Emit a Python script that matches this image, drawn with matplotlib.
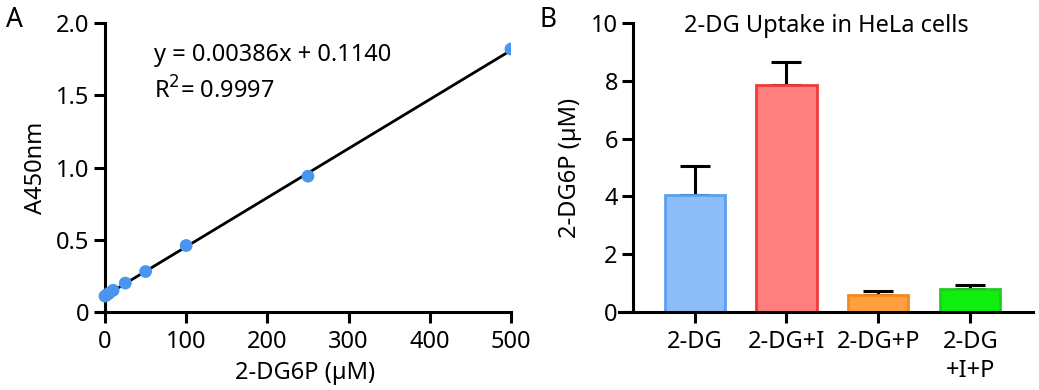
import numpy as np
import matplotlib
matplotlib.use('Agg')
import matplotlib.pyplot as plt

plt.rcParams['font.family'] = ['Noto Sans', 'DejaVu Sans']
plt.rcParams['font.size'] = 17

# panel A - standard curve
conc = [0, 2.5, 5, 10, 25, 50, 100, 250, 500]
absorb = [0.11, 0.12, 0.13, 0.15, 0.20, 0.28, 0.46, 0.94, 1.82]
eq_text = 'y = 0.00386x + 0.1140\nR$^2$= 0.9997'

# panel B - uptake
groups = ['2-DG', '2-DG+I', '2-DG+P', '2-DG\n+I+P']
uptake = [4.05, 7.85, 0.6, 0.8]
sem = [1.0, 0.8, 0.12, 0.12]
fills = ['#8dbdf9', '#ff7f7f', '#ff9f40', '#10ee10']
edges = ['#5a9ff0', '#ef3b3b', '#f58a1a', '#20cc20']

fig = plt.figure(figsize=(10.39, 3.9), dpi=100)
axA = fig.add_axes([0.0948, 0.2, 0.397, 0.741])
axB = fig.add_axes([0.596, 0.2, 0.398, 0.741])

lw = 2.2
for ax in (axA, axB):
    for s in ('top', 'right'):
        ax.spines[s].set_visible(False)
    for s in ('left', 'bottom'):
        ax.spines[s].set_linewidth(lw)
    ax.tick_params(width=lw, length=8, labelsize=17, pad=3)
    ax.tick_params(axis='x', pad=5)

# A
xs = np.array([0, 500])
k, b = np.polyfit(conc, absorb, 1)
axA.plot(xs, k * xs + b, color='black', lw=2, zorder=2)
axA.scatter(conc, absorb, s=85, color='#4a95f0', zorder=3, edgecolors='none')
axA.set_xlim(-8, 500)
axA.set_ylim(0, 2.0)
axA.spines['left'].set_position(('data', 0))
axA.spines['left'].set_bounds(0, 2.0)
axA.set_xticks([0, 100, 200, 300, 400, 500])
axA.set_yticks([0, 0.5, 1.0, 1.5, 2.0])
axA.set_yticklabels(['0', '0.5', '1.0', '1.5', '2.0'])
axA.set_xlabel('2-DG6P (µM)', labelpad=5)
axA.set_ylabel('A450nm', labelpad=6)
axA.text(60, 1.65, eq_text, fontsize=17, va='center', linespacing=1.5)

# B
pos = np.arange(len(groups))
axB.bar(pos, uptake, width=0.655, color=fills, edgecolor=edges, linewidth=2, zorder=2)
axB.errorbar(pos, uptake, yerr=[np.zeros(len(sem)), sem], fmt='none',
             ecolor='black', elinewidth=2.2, capsize=10.5, capthick=2.2, zorder=1)
axB.set_xlim(-0.82, 3.68)
axB.set_ylim(0, 10)
axB.spines['left'].set_position(('data', -0.67))
axB.spines['left'].set_bounds(0, 10)
axB.set_xticks(pos)
axB.set_xticklabels(groups, linespacing=1.3)
axB.set_yticks([0, 2, 4, 6, 8, 10])
axB.set_ylabel('2-DG6P (µM)', labelpad=6)
axB.text(0.5, 0.99, '2-DG Uptake in HeLa cells', transform=axB.transAxes,
         ha='center', va='center', fontsize=17)

fig.text(0.006, 0.93, 'A', fontsize=19)
fig.text(0.519, 0.93, 'B', fontsize=19)

fig.savefig('out.png', dpi=100)
